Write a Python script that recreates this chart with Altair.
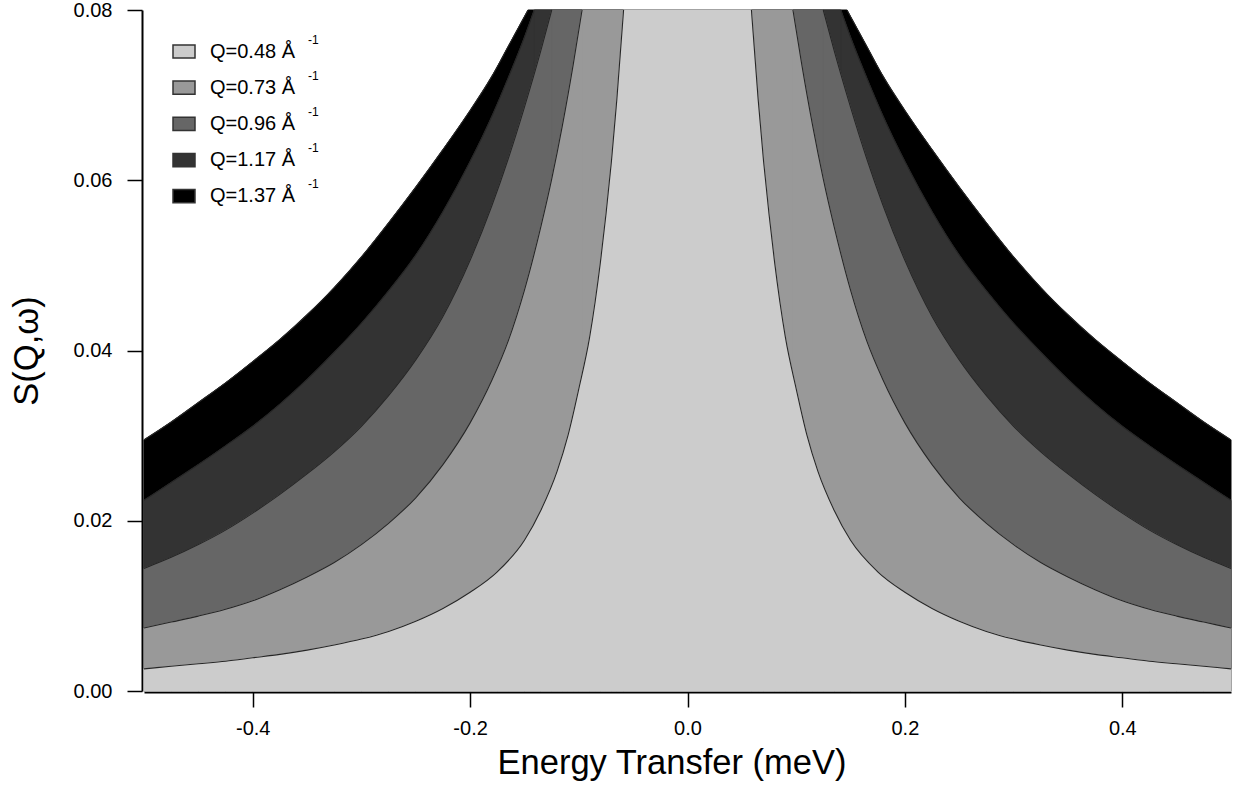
import altair as alt
import pandas as pd

FONT = "Liberation Sans"

# Momentum transfers and the grey level used for each
Q_LABELS = ["Q=0.48 Å", "Q=0.73 Å", "Q=0.96 Å", "Q=1.17 Å", "Q=1.37 Å"]
FILLS = ["#cccccc", "#999999", "#666666", "#333333", "#000000"]

# S(Q,w) on the positive energy side (meV); the first point is where each
# curve leaves the top of the frame. The spectra are symmetric in energy.
E_Q048 = [0.0588, 0.065, 0.07, 0.075, 0.08, 0.085, 0.09, 0.1, 0.11, 0.12, 0.135,
          0.15, 0.175, 0.2, 0.225, 0.25, 0.275, 0.3, 0.325, 0.35, 0.375, 0.4,
          0.425, 0.45, 0.475, 0.5]
S_Q048 = [0.0800, 0.0695, 0.0622, 0.0560, 0.0505, 0.0457, 0.0416, 0.0355, 0.0300,
          0.0258, 0.0212, 0.0177, 0.0140, 0.0116, 0.0097, 0.0082, 0.0070, 0.0061,
          0.0054, 0.0048, 0.0043, 0.0039, 0.0035, 0.0032, 0.0029, 0.0026]

E_Q073 = [0.097, 0.105, 0.115, 0.125, 0.135, 0.15, 0.165, 0.18, 0.2, 0.225, 0.25,
          0.275, 0.3, 0.325, 0.35, 0.375, 0.4, 0.425, 0.45, 0.475, 0.5]
S_Q073 = [0.0800, 0.0737, 0.0665, 0.0601, 0.0545, 0.0471, 0.0411, 0.0365, 0.0315,
          0.0266, 0.0227, 0.0197, 0.0172, 0.0151, 0.0134, 0.0119, 0.0106, 0.0096,
          0.0088, 0.0081, 0.0074]

E_Q096 = [0.1249, 0.135, 0.15, 0.165, 0.18, 0.2, 0.225, 0.25, 0.275, 0.3, 0.325,
          0.35, 0.375, 0.4, 0.425, 0.45, 0.475, 0.5]
S_Q096 = [0.0800, 0.0752, 0.0686, 0.0625, 0.0570, 0.0506, 0.0440, 0.0389, 0.0347,
          0.0311, 0.0281, 0.0255, 0.0231, 0.0209, 0.0189, 0.0172, 0.0157, 0.0144]

E_Q117 = [0.141, 0.15, 0.165, 0.18, 0.2, 0.225, 0.25, 0.275, 0.3, 0.325, 0.35,
          0.375, 0.4, 0.425, 0.45, 0.475, 0.5]
S_Q117 = [0.0800, 0.0768, 0.0720, 0.0675, 0.0622, 0.0563, 0.0512, 0.0470, 0.0432,
          0.0398, 0.0366, 0.0337, 0.0311, 0.0288, 0.0266, 0.0245, 0.0224]

E_Q137 = [0.1467, 0.165, 0.18, 0.2, 0.225, 0.25, 0.275, 0.3, 0.325, 0.35, 0.375,
          0.4, 0.425, 0.45, 0.475, 0.5]
S_Q137 = [0.0800, 0.0757, 0.0722, 0.0682, 0.0636, 0.0592, 0.0550, 0.0510, 0.0474,
          0.0442, 0.0413, 0.0387, 0.0362, 0.0339, 0.0316, 0.0295]

ENERGIES = [E_Q048, E_Q073, E_Q096, E_Q117, E_Q137]
SIGNALS = [S_Q048, S_Q073, S_Q096, S_Q117, S_Q137]

X_TICKS = [-0.4, -0.2, 0.0, 0.2, 0.4]
Y_TICKS = [0.0, 0.02, 0.04, 0.06, 0.08]


def wings(label, energies, signals):
    """Both wings of one spectrum: negative side mirrored from the positive one."""
    rows = [{"q": label, "E": -e, "S": s, "side": "neg"}
            for e, s in zip(reversed(energies), reversed(signals))]
    rows += [{"q": label, "E": e, "S": s, "side": "pos"}
             for e, s in zip(energies, signals)]
    return pd.DataFrame(rows)


def core(label, energies, signals):
    """Central band between the two points where the curve leaves the frame."""
    return pd.DataFrame([{"q": label, "E0": -energies[0], "E1": energies[0],
                          "S0": 0.0, "S1": signals[0]}])


x_scale = alt.Scale(domain=[-0.5, 0.5], nice=False, zero=False)
y_scale = alt.Scale(domain=[0.0, 0.08], nice=False)

x_axis = alt.Axis(
    values=X_TICKS,
    labelExpr="datum.value < 0 ? '-' + format(-datum.value, '.1f') : format(datum.value, '.1f')",
    labelFont=FONT, labelFontSize=20, labelColor="#000", labelPadding=11,
    tickSize=15, tickWidth=1.5, tickColor="#000",
    domainColor="#000", domainWidth=2, grid=False, offset=1,
    titleFont=FONT, titleFontSize=34.5, titleFontWeight="normal", titleColor="#000",
    titleX=527.5, titleY=81, titleBaseline="alphabetic", titleAlign="center",
)
y_axis = alt.Axis(
    values=Y_TICKS, format=".2f",
    labelFont=FONT, labelFontSize=20, labelColor="#000", labelPadding=15,
    tickSize=15, tickWidth=1.5, tickColor="#000",
    domainColor="#000", domainWidth=2, grid=False, offset=2,
    titleFont=FONT, titleFontSize=34.5, titleFontWeight="normal", titleColor="#000",
    titleX=-105, titleY=340.5, titleBaseline="alphabetic", titleAlign="center",
)

x_enc = alt.X("E:Q", scale=x_scale, axis=x_axis, title="Energy Transfer (meV)")
y_enc = alt.Y("S:Q", scale=y_scale, axis=y_axis, title="S(Q,ω)", stack=None)

fills = []
lines = []
# broadest spectrum at the back, narrowest in front
for i in reversed(range(len(Q_LABELS))):
    wing_df = wings(Q_LABELS[i], ENERGIES[i], SIGNALS[i])
    core_df = core(Q_LABELS[i], ENERGIES[i], SIGNALS[i])
    fills.append(
        alt.Chart(wing_df)
        .mark_area(color=FILLS[i], stroke=FILLS[i], strokeWidth=1, interpolate="monotone")
        .encode(x=x_enc, y=y_enc, detail="side:N")
    )
    fills.append(
        alt.Chart(core_df).mark_rect(color=FILLS[i], stroke=FILLS[i], strokeWidth=1)
        .encode(x=alt.X("E0:Q", scale=x_scale, axis=x_axis, title="Energy Transfer (meV)"),
                x2="E1:Q",
                y=alt.Y("S0:Q", scale=y_scale, axis=y_axis, title="S(Q,ω)"),
                y2="S1:Q")
    )
    lines.append(
        alt.Chart(wing_df).mark_line(color="#262626", strokeWidth=1.1, interpolate="monotone")
        .encode(x=x_enc, y=y_enc, detail="side:N")
    )

spectra = alt.layer(*fills, *lines)

# legend: grey swatch, label and the inverse-angstrom exponent for each Q
legend_df = pd.DataFrame({
    "row": list(range(len(Q_LABELS))),
    "label": Q_LABELS,
    "fill": FILLS,
    "exp": ["-1"] * len(Q_LABELS),
})
row_y = alt.Y("row:Q", scale=alt.Scale(domain=[0, 4], range=[41.5, 186.2]), axis=None)

swatches = alt.Chart(legend_df).mark_point(
    shape="M-1,-0.6L1,-0.6L1,0.6L-1,0.6Z", size=484, filled=True,
    stroke="#333333", strokeWidth=1.5, opacity=1,
).encode(x=alt.value(40), y=row_y, fill=alt.Fill("fill:N", scale=None))

labels = alt.Chart(legend_df).mark_text(
    align="left", baseline="middle", font=FONT, fontSize=20, color="#000",
).encode(x=alt.value(66), y=row_y, text="label:N")

exponents = alt.Chart(legend_df).mark_text(
    align="left", baseline="middle", font=FONT, fontSize=12, color="#000", dy=-12,
).encode(x=alt.value(164), y=row_y, text="exp:N")

legend = alt.layer(swatches, labels, exponents)

chart = (
    alt.layer(spectra, legend)
    .resolve_scale(y="independent")
    .properties(
        width=1087, height=681,
        padding={"left": 144, "top": 10, "right": 4, "bottom": 103},
        autosize=alt.AutoSizeParams(type="none"),
        background="white",
    )
    .configure_view(strokeWidth=0)
)

chart.save("out.html", embed_options={"renderer": "svg", "actions": False})
